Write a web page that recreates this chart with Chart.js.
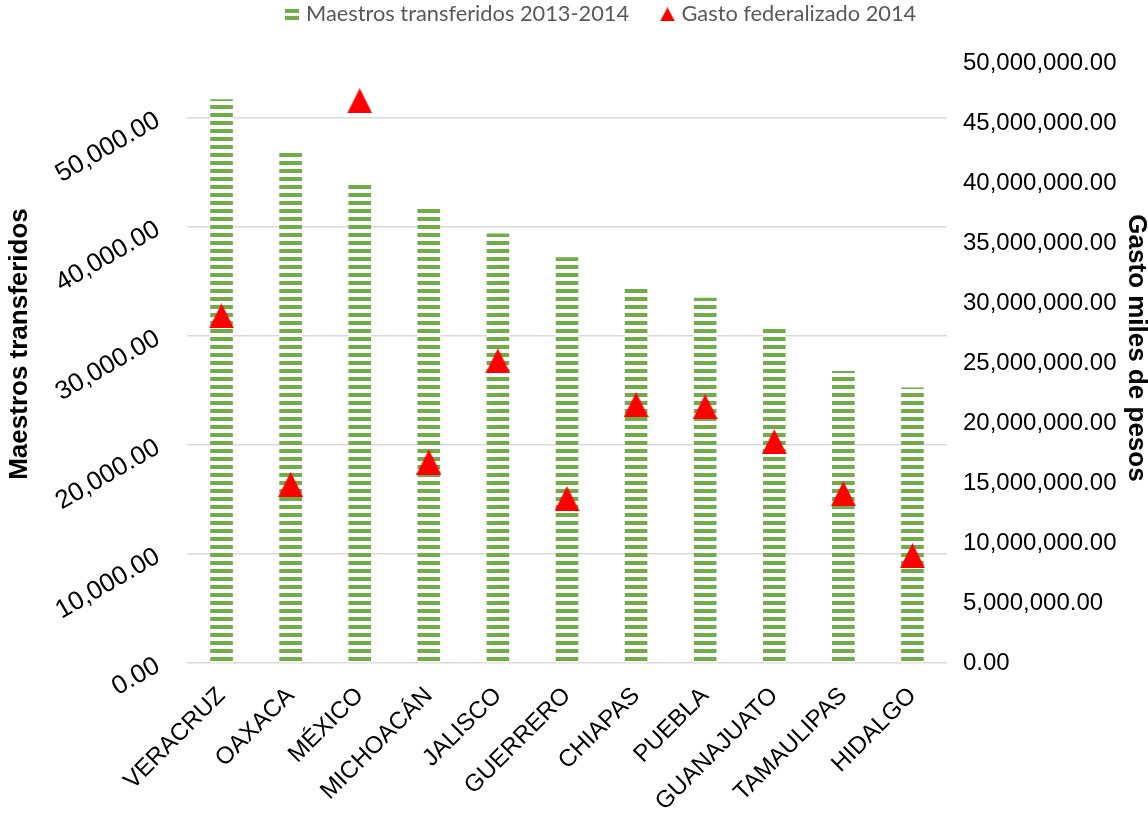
<!DOCTYPE html>
<html><head><meta charset="utf-8">
<script src="https://cdn.jsdelivr.net/npm/chart.js@4.4.1/dist/chart.umd.min.js"></script>
<style>html,body{margin:0;padding:0;background:#fff;overflow:hidden}canvas{display:block}</style>
</head><body>
<canvas id="c" width="1148" height="824" style="width:1148px;height:824px"></canvas>
<script>
const categorias = ['VERACRUZ','OAXACA','MÉXICO','MICHOACÁN','JALISCO','GUERRERO','CHIAPAS','PUEBLA','GUANAJUATO','TAMAULIPAS','HIDALGO'];
const maestros = [51650, 46800, 43880, 41680, 39330, 37160, 34310, 33460, 30640, 26730, 25230];
const gasto = [28920000, 14890000, 46850000, 16750000, 25180000, 13700000, 21530000, 21360000, 18440000, 14110000, 8940000];
const serieBarras = 'Maestros transferidos 2013-2014';
const serieMarcas = 'Gasto federalizado 2014';
const tituloIzq = 'Maestros transferidos';
const tituloDer = 'Gasto miles de pesos';
const ticksIzq = [0, 10000, 20000, 30000, 40000, 50000];
const ejeIzqMax = 55000;
const ticksDer = [0, 5000000, 10000000, 15000000, 20000000, 25000000, 30000000, 35000000, 40000000, 45000000, 50000000];
const ejeDerMax = 50000000;

const VERDE = '#70AD47', ROJO = '#FF0000';

function fmt(v){
  const s = (Math.round(Number(v)*100)/100).toFixed(2).split('.');
  return s[0].replace(/\B(?=(\d{3})+(?!\d))/g, ',') + '.' + s[1];
}
function lienzo(w,h){ const c=document.createElement('canvas'); c.width=w; c.height=h; return c; }
const pc = lienzo(8,8), pg = pc.getContext('2d');
pg.fillStyle='#fff'; pg.fillRect(0,0,8,8); pg.fillStyle=VERDE; pg.fillRect(0,1,8,4);
const patron = pg.createPattern(pc,'repeat');
function triangulo(w,h){
  const c=lienzo(w,h), g=c.getContext('2d');
  g.fillStyle=ROJO; g.beginPath(); g.moveTo(0,h); g.lineTo(w/2,0); g.lineTo(w,h); g.closePath(); g.fill();
  return c;
}
const marcaTri = triangulo(25,25);
const iconoTri = triangulo(15,14);
const iconoBarra = lienzo(14,11);
(function(){ const g=iconoBarra.getContext('2d'); g.fillStyle='#fff'; g.fillRect(0,0,14,11); g.fillStyle=VERDE; g.fillRect(0,0,14,4); g.fillRect(0,7,14,4); })();

const mctx = lienzo(10,10).getContext('2d');
mctx.font = '100px Lato';
let F = 100*235/mctx.measureText(serieMarcas).width;
F = Math.max(14, Math.min(24, Math.round(F*10)/10));
mctx.font = F+'px Lato';
const w1 = mctx.measureText(serieBarras).width;
const bw = Math.max(2, 28 - F);
const x0 = 292 - bw/2;
const lpad = 347.5 + F/2 - w1;

const ajusteLeyenda = {
  id:'ajusteLeyenda',
  afterInit(chart){
    const lg = chart.legend; const fit = lg.fit;
    lg.fit = function(){ fit.call(this); this.height = 63; };
  },
  afterLayout(chart){
    const lg = chart.legend;
    lg.left = x0 - lpad;
    lg.top = 3.5 - lpad;
  }
};

const titulosEjes = {
  id:'titulosEjes',
  afterDraw(chart){
    const ctx = chart.ctx;
    ctx.save();
    ctx.font = 'bold 26px "Liberation Sans"';
    ctx.fillStyle = '#000'; ctx.textAlign = 'center'; ctx.textBaseline = 'middle';
    ctx.translate(19.5, 344); ctx.rotate(-Math.PI/2); ctx.fillText(tituloIzq, 0, 0);
    ctx.restore();
    ctx.save();
    ctx.font = 'bold 26px "Liberation Sans"';
    ctx.fillStyle = '#000'; ctx.textAlign = 'center'; ctx.textBaseline = 'middle';
    ctx.translate(1136, 348); ctx.rotate(Math.PI/2); ctx.fillText(tituloDer, 0, 0);
    ctx.restore();
  }
};

new Chart(document.getElementById('c'), {
  type:'bar',
  data:{
    labels: categorias,
    datasets:[
      {type:'bar', label:serieBarras, data:maestros, yAxisID:'y', backgroundColor:patron, borderWidth:0, barThickness:22, order:1},
      {type:'line', label:serieMarcas, data:gasto, yAxisID:'y1', showLine:false, pointStyle:marcaTri, pointRadius:12, pointHoverRadius:12, backgroundColor:ROJO, borderColor:ROJO, order:0}
    ]
  },
  options:{
    responsive:false, animation:false,
    layout:{padding:0},
    plugins:{
      tooltip:{enabled:false},
      legend:{
        position:'top', align:'start',
        labels:{
          usePointStyle:true, boxWidth:bw, padding:lpad, color:'#595959',
          font:{family:'Lato', size:F},
          sort:(a,b)=>a.datasetIndex-b.datasetIndex,
          generateLabels(chart){
            const items = Chart.defaults.plugins.legend.labels.generateLabels(chart);
            items.forEach(it=>{ it.pointStyle = it.datasetIndex===0 ? iconoBarra : iconoTri; it.fontColor='#595959'; });
            return items;
          }
        }
      }
    },
    scales:{
      x:{
        grid:{display:false, drawTicks:false}, border:{display:false},
        ticks:{autoSkip:false, minRotation:45, maxRotation:45, padding:17, color:'#000', font:{family:'Liberation Sans', size:24, lineHeight:1.4}},
        afterFit(s){ s.height=161; s.paddingLeft=0; s.paddingRight=0; }
      },
      y:{
        position:'left', min:0, max:ejeIzqMax,
        ticks:{minRotation:30, maxRotation:30, padding:29, labelOffset:1, color:'#000', font:{family:'Liberation Sans', size:26}, callback:(v)=>fmt(v)},
        afterBuildTicks(s){ s.ticks = ticksIzq.map(v=>({value:v})); },
        grid:{color:'#d9d9d9', lineWidth:1.5, drawTicks:false}, border:{display:false},
        title:{display:false},
        afterFit(s){ s.width=187; s.paddingTop=0; s.paddingBottom=0; }
      },
      y1:{
        position:'right', min:0, max:ejeDerMax,
        grid:{display:false, drawTicks:false}, border:{display:false},
        afterBuildTicks(s){ s.ticks = ticksDer.map(v=>({value:v})); },
        ticks:{padding:16, color:'#000', font:{family:'Liberation Sans', size:24}, callback:(v)=>fmt(v)},
        title:{display:false},
        afterFit(s){ s.width=201; s.paddingTop=0; s.paddingBottom=0; }
      }
    }
  },
  plugins:[ajusteLeyenda, titulosEjes]
});
</script>
</body></html>
